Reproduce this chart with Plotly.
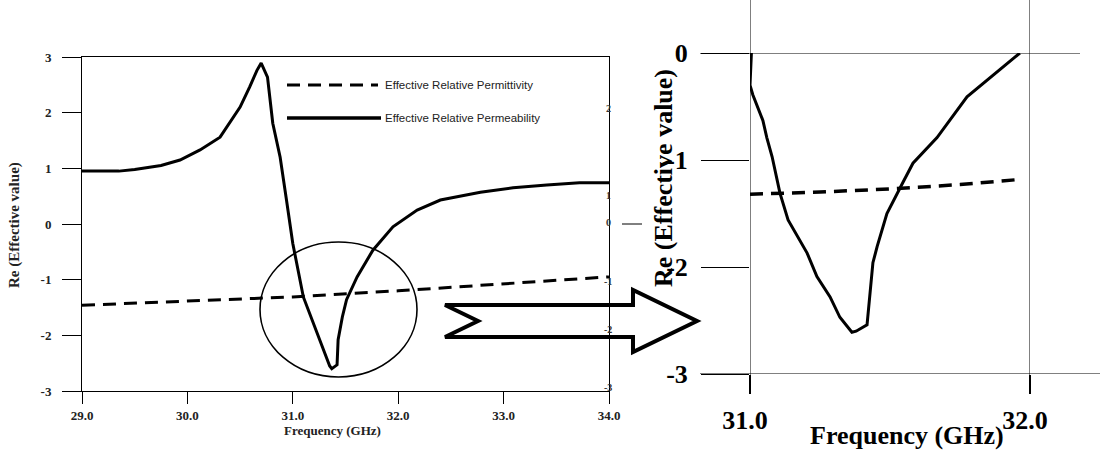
import plotly.graph_objects as go

# ---------------- data ----------------
# Left panel: full band 29-34 GHz
perm_freq = [29.0, 29.35, 29.5, 29.75, 29.93, 30.12, 30.31, 30.40, 30.50, 30.59, 30.66, 30.70,
             30.76, 30.81, 30.88, 30.94, 31.0, 31.10, 31.16, 31.26, 31.35, 31.37, 31.42, 31.43,
             31.47, 31.51, 31.61, 31.76, 31.95, 32.18, 32.40, 32.78, 33.09, 33.41, 33.72, 34.0]
perm_val = [0.95, 0.95, 0.98, 1.05, 1.15, 1.33, 1.56, 1.81, 2.10, 2.46, 2.76, 2.89,
            2.64, 1.81, 1.20, 0.43, -0.35, -1.31, -1.60, -2.08, -2.55, -2.60, -2.53, -2.08,
            -1.67, -1.36, -0.95, -0.47, -0.05, 0.25, 0.43, 0.57, 0.65, 0.70, 0.74, 0.74]
eps_freq = [29.0, 30.0, 31.0, 32.0, 33.0, 34.0]
eps_val = [-1.46, -1.39, -1.31, -1.20, -1.08, -0.95]

# Right panel: zoom on 31-32 GHz
zperm_freq = [31.005, 31.0, 31.01, 31.046, 31.06, 31.079, 31.107, 31.136, 31.204, 31.239, 31.286,
              31.321, 31.364, 31.379, 31.418, 31.439, 31.454, 31.489, 31.546, 31.582, 31.668,
              31.775, 31.964]
zperm_val = [0.0, -0.30, -0.39, -0.63, -0.79, -0.97, -1.31, -1.56, -1.87, -2.09, -2.28,
             -2.47, -2.61, -2.60, -2.54, -1.96, -1.81, -1.50, -1.21, -1.03, -0.79,
             -0.41, 0.0]
zeps_freq = [31.0, 31.25, 31.5, 31.75, 31.97]
zeps_val = [-1.32, -1.30, -1.27, -1.23, -1.18]

left_xticks = [29, 30, 31, 32, 33, 34]
left_xlabels = ["29.0", "30.0", "31.0", "32.0", "33.0", "34.0"]
left_yticks = [3, 2, 1, 0, -1, -2, -3]
left_ylabels = ["3", "2", "1", "0", "-1", "-2", "-3"]
right_side_labels = ["3", "2", "1", "0", "-1", "-2", "-3"]
right_side_pos = [3.07, 2.08, 0.52, 0.02, -1.04, -1.90, -2.93]
zoom_xticks = [31, 32]
zoom_xlabels = ["31.0", "32.0"]
zoom_yticks = [0, -1, -2, -3]
zoom_ylabels = ["0", "-1", "-2", "-3"]

legend_names = ["Effective Relative Permittivity", "Effective Relative Permeability"]

# ---------------- helpers (pixel -> paper) ----------------
W, H = 1100, 450
def px(x):
    return x / W
def py(y):
    return 1 - y / H

SERIF = "Liberation Serif"
SANS = "Liberation Sans"

fig = go.Figure()

fig.add_trace(go.Scatter(x=perm_freq, y=perm_val, mode="lines", xaxis="x", yaxis="y",
                         line=dict(color="black", width=3), name=legend_names[1]))
fig.add_trace(go.Scatter(x=eps_freq, y=eps_val, mode="lines", xaxis="x", yaxis="y",
                         line=dict(color="black", width=3, dash="13px,8px"), name=legend_names[0]))
fig.add_trace(go.Scatter(x=zperm_freq, y=zperm_val, mode="lines", xaxis="x2", yaxis="y2",
                         line=dict(color="black", width=3), name=legend_names[1]))
fig.add_trace(go.Scatter(x=zeps_freq, y=zeps_val, mode="lines", xaxis="x2", yaxis="y2",
                         line=dict(color="black", width=3.5, dash="13px,8px"), name=legend_names[0]))

axis_common = dict(showgrid=False, zeroline=False, linecolor="black", tickcolor="black",
                   automargin=False)

fig.update_layout(
    template="none",
    width=W, height=H,
    margin=dict(l=0, r=0, t=0, b=0, autoexpand=False),
    paper_bgcolor="white", plot_bgcolor="white",
    showlegend=False,
    xaxis=dict(domain=[px(82), px(609)], range=[29, 34], anchor="y",
               tickvals=left_xticks, ticktext=left_xlabels,
               ticks="outside", ticklen=12, tickwidth=1, showline=True, mirror=True,
               ticklabelstandoff=0,
               tickfont=dict(family=SERIF, size=13, color="#222", weight="bold"),
               **axis_common),
    yaxis=dict(domain=[py(391), py(57)], range=[-3, 3], anchor="x",
               tickvals=left_yticks, ticktext=left_ylabels,
               ticks="outside", ticklen=19, tickwidth=1,
               showline=True, mirror=True, ticklabelstandoff=8,
               tickfont=dict(family=SERIF, size=13, color="#222", weight="bold"),
               **axis_common),
    xaxis2=dict(domain=[px(750), px(1030)], range=[31, 32], anchor="y2",
                tickvals=zoom_xticks, ticktext=zoom_xlabels,
                ticks="outside", ticklen=19, tickwidth=1.5, showline=False,
                ticklabelshift=-5, ticklabelstandoff=4,
                tickfont=dict(family=SERIF, size=26, color="black", weight="bold"),
                **axis_common),
    yaxis2=dict(domain=[py(374), py(53)], range=[-3, 0], anchor="x2",
                tickvals=zoom_yticks, ticktext=zoom_ylabels,
                ticks="outside", ticklen=48, tickwidth=1,
                showline=False, ticklabelstandoff=8,
                tickfont=dict(family=SERIF, size=26, color="black", weight="bold"),
                **axis_common),
)

shapes = []
line_k = dict(color="black", width=1)
# right panel frame lines (extend beyond plot area as in the reference)
shapes.append(dict(type="line", xref="paper", yref="y2", x0=px(700), x1=1, y0=-3, y1=-3, line=line_k))
shapes.append(dict(type="line", xref="paper", yref="y2", x0=px(700), x1=px(1080), y0=0, y1=0, line=line_k))
shapes.append(dict(type="line", xref="x2", yref="paper", x0=31, x1=31, y0=py(393), y1=1, line=line_k))
shapes.append(dict(type="line", xref="x2", yref="paper", x0=32, x1=32, y0=py(393), y1=1, line=line_k))
# small dash right of the left panel at the zero level
shapes.append(dict(type="line", xref="paper", yref="y", x0=px(622), x1=px(642), y0=0, y1=0, line=line_k))
# legend samples
shapes.append(dict(type="line", xref="paper", yref="paper", x0=px(287), x1=px(378), y0=py(85), y1=py(85),
                   line=dict(color="black", width=3, dash="13px,8px")))
shapes.append(dict(type="line", xref="paper", yref="paper", x0=px(287), x1=px(381), y0=py(118), y1=py(118),
                   line=dict(color="black", width=3.5)))
# circle around the resonance
shapes.append(dict(type="circle", xref="paper", yref="paper", x0=px(260), x1=px(417), y0=py(377), y1=py(242),
                   line=dict(color="black", width=1.6)))
# big outlined arrow
arrow_pts = [(445, 305), (633, 305), (633, 290), (697, 321), (633, 352), (633, 337), (445, 337), (478, 321)]
path = "M " + " L ".join(f"{px(x):.5f},{py(y):.5f}" for x, y in arrow_pts) + " Z"
shapes.append(dict(type="path", xref="paper", yref="paper", path=path,
                   line=dict(color="black", width=4), fillcolor="rgba(0,0,0,0)"))
fig.update_layout(shapes=shapes)

ann = []
# legend texts
for name, yy in zip(legend_names, [85, 118]):
    ann.append(dict(xref="paper", yref="paper", x=px(383), y=py(yy), text=name, showarrow=False,
                    xanchor="left", yanchor="middle", font=dict(family=SANS, size=11.5, color="#222")))
# right-side labels of left panel
for lab, pos in zip(right_side_labels, right_side_pos):
    ann.append(dict(xref="x", yref="y", x=34, y=pos, text=lab, showarrow=False, xanchor="center",
                    yanchor="middle", xshift=-1,
                    font=dict(family=SERIF, size=10, color="#333", weight="bold")))
# axis titles
ann.append(dict(xref="paper", yref="paper", x=px(332), y=py(430), text="Frequency (GHz)", showarrow=False,
                xanchor="center", yanchor="middle", font=dict(family=SERIF, size=13, color="#222", weight="bold")))
ann.append(dict(xref="paper", yref="paper", x=px(14), y=py(225), text="Re (Effective value)", showarrow=False,
                textangle=-90, xanchor="center", yanchor="middle",
                font=dict(family=SERIF, size=15, color="#222", weight="bold")))
ann.append(dict(xref="paper", yref="paper", x=px(907), y=py(451), text="Frequency (GHz)", showarrow=False,
                xanchor="center", yanchor="bottom", borderpad=0,
                font=dict(family=SERIF, size=26, color="black", weight="bold")))
ann.append(dict(xref="paper", yref="paper", x=px(663), y=py(178), text="Re (Effective value)", showarrow=False,
                textangle=-90, xanchor="center", yanchor="middle",
                font=dict(family=SERIF, size=26, color="black", weight="bold")))
fig.update_layout(annotations=ann)

fig.write_html("out.html", config={"displayModeBar": False},
               post_script="document.body.style.margin='0px';document.body.style.overflow='hidden';")
